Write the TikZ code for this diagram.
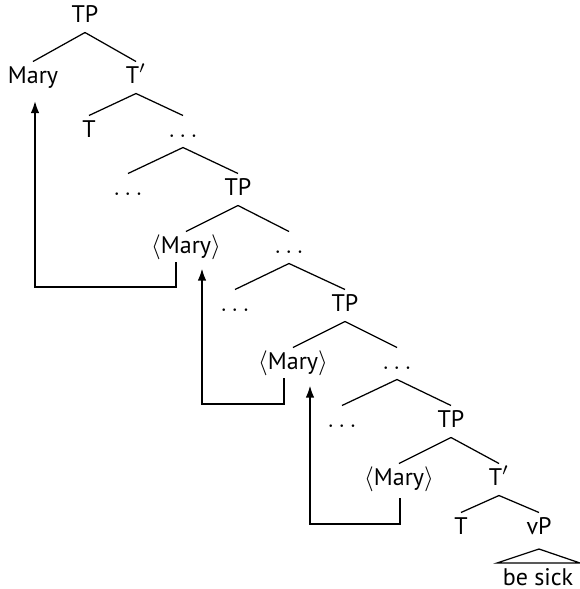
\documentclass[tikz,border=0pt]{standalone}
\usepackage{fontspec}
\setmainfont{PT Sans}
\usetikzlibrary{arrows.meta}
\newcommand{\dd}{$\ldots$}
\begin{document}
\begin{tikzpicture}[x=0.4pt,y=-0.4pt,
  lab/.style={anchor=base,inner sep=0pt,font=\fontsize{9.6pt}{11pt}\selectfont},
  edge/.style={line width=0.5pt},
  mv/.style={line width=0.9pt,-{Latex[length=5pt,width=3.4pt]}}]
\useasboundingbox (0,0) rectangle (580,589);
% nodes (x, baseline y in px)
\node[lab] (tp0) at (85,22) {TP};
\node[lab] (mary) at (33,83) {Mary};
\node[lab] (tb0) at (136,83) {T$'$};
\node[lab] (t0) at (89,137) {T};
\node[lab] (d1) at (183,137) {\dd};
\node[lab] (d2) at (128,195) {\dd};
\node[lab] (tp1) at (238,195) {TP};
\node[lab] (m1) at (186,253) {$\langle$Mary$\rangle$};
\node[lab] (d3) at (289,253) {\dd};
\node[lab] (d4) at (235,311) {\dd};
\node[lab] (tp2) at (345,311) {TP};
\node[lab] (m2) at (293,369) {$\langle$Mary$\rangle$};
\node[lab] (d5) at (397,369) {\dd};
\node[lab] (d6) at (342,427) {\dd};
\node[lab] (tp3) at (451,427) {TP};
\node[lab] (m3) at (399,485) {$\langle$Mary$\rangle$};
\node[lab] (tb1) at (499,485) {T$'$};
\node[lab] (t1) at (461,534) {T};
\node[lab] (vp) at (539,534) {vP};
\node[lab] (bs) at (538,585) {be sick};
% edges
\foreach \p/\c in {tp0/mary,tp0/tb0,tb0/t0,tb0/d1,d1/d2,d1/tp1,tp1/m1,tp1/d3,d3/d4,d3/tp2,tp2/m2,tp2/d5,d5/d6,d5/tp3,tp3/m3,tp3/tb1,tb1/t1,tb1/vp}
  \draw[edge] ([yshift=-4.2pt]\p.base) -- ([yshift=8.6pt]\c.base);
% triangle
\draw[edge] ([yshift=-6pt]vp.base) -- ([xshift=-16.4pt,yshift=8.8pt]bs.base) -- ([xshift=16.8pt,yshift=8.8pt]bs.base) -- cycle;
% movement arrows
\draw[mv] ([xshift=-4pt,yshift=-3.6pt]m1.base) -- ++(0,25) -| ([xshift=0.8pt,yshift=-7pt]mary.base);
\draw[mv] ([xshift=-3.6pt,yshift=-3.6pt]m2.base) -- ++(0,26) -| ([xshift=6.4pt,yshift=-6pt]m1.base);
\draw[mv] ([xshift=0.4pt,yshift=-5.2pt]m3.base) -- ++(0,26) -| ([xshift=6.8pt,yshift=-6.4pt]m2.base);
\end{tikzpicture}
\end{document}
